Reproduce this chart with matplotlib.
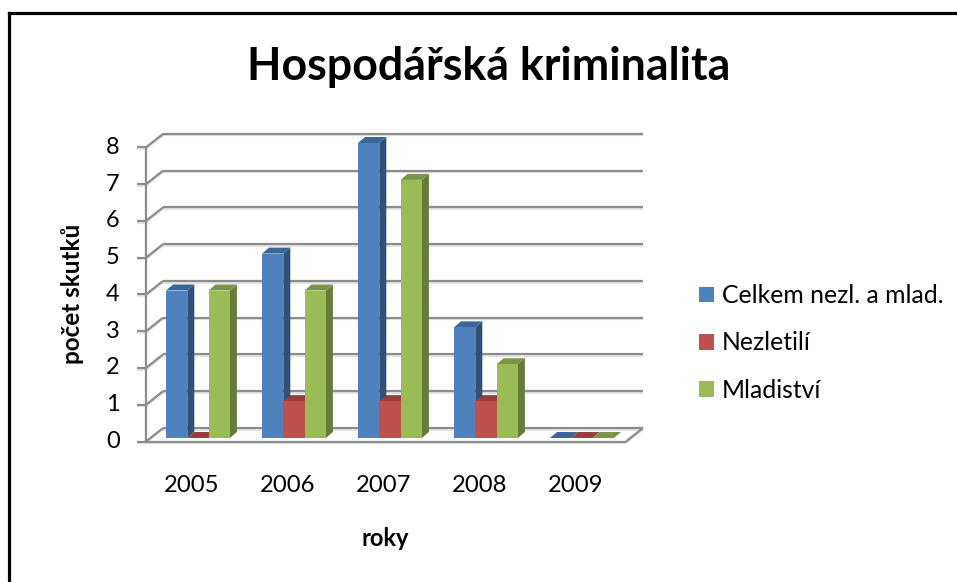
import matplotlib
matplotlib.use("Agg")
import matplotlib.pyplot as plt
from matplotlib.patches import Rectangle
from matplotlib.lines import Line2D

plt.rcParams['font.family'] = ['Lato', 'DejaVu Sans']

# --- data ---
years = ['2005', '2006', '2007', '2008', '2009']
series_names = ['Celkem nezl. a mlad.', 'Nezletilí', 'Mladiství']
celkem = [4, 5, 8, 3, 0]
nezletili = [0, 1, 1, 1, 0]
mladistvi = [4, 4, 7, 2, 0]
y_ticks = [0, 1, 2, 3, 4, 5, 6, 7, 8]

front_cols = ['#4F81BD', '#C0504D', '#9BBB59']
side_cols = ['#2F5078', '#7F3230', '#677C39']
top_cols = ['#3D6696', '#973F3D', '#7A9446']

W, H = 957, 582
fig = plt.figure(figsize=(W / 100, H / 100), dpi=100, facecolor='white')

# axes box in pixels: x 146..626, y 143 (value 8) .. 438 (value 0)
L, R, T, B = 146, 626, 143, 438
ax = fig.add_axes([L / W, 1 - B / H, (R - L) / W, (B - T) / H])
ax.set_xlim(0, len(years))
ax.set_ylim(0, 8)
ax.axis('off')

px_x = len(years) / (R - L)
px_y = 8 / (B - T)

# frame depth
wall_dx, wall_dy = 17 * px_x, 13.5 * px_y
front_y = -3.5 * px_y
# bar depth
bar_dx, bar_dy = 7 * px_x, 6 * px_y
bar_w = 21.3 * px_x
group_off = 20 * px_x

grid_col = '#8C8C8C'
shadow_col = '#E4E4E4'

def seg(xs, ys, z=1, lw=1.6, col=grid_col):
    ax.plot(xs, [y - 1.6 * px_y for y in ys], color=shadow_col, lw=lw, zorder=z - 0.5,
            clip_on=False, solid_capstyle='butt')
    ax.plot(xs, ys, color=col, lw=lw, zorder=z, clip_on=False, solid_capstyle='butt')

n = len(years)
back_y0 = front_y + wall_dy
for v in y_ticks:
    # back wall line, left wall diagonal and tick mark
    seg([wall_dx, n + wall_dx], [v * 0.997 + back_y0] * 2)
    seg([0, wall_dx], [v * 0.997 + front_y, v * 0.997 + back_y0])
    seg([-9 * px_x, 0], [v * 0.997 + front_y] * 2)
    ax.text(-33 * px_x, v * 0.997 + front_y, str(v), ha='center', va='center',
            fontsize=17, color='black', clip_on=False)

# left front axis, floor front edge and floor right edge
seg([0, 0], [front_y, 8 * 0.997 + front_y])
seg([0, n], [front_y, front_y])
seg([n, n + wall_dx], [front_y, back_y0])

# bars drawn from the data, left to right so each covers its neighbour's side
for i, year in enumerate(years):
    for s, vals in enumerate([celkem, nezletili, mladistvi]):
        v = vals[i]
        x0 = i + group_off + s * bar_w
        z = 3 + i + s * 0.1
        # front face
        ax.bar(x0, v, width=bar_w, align='edge', color=front_cols[s], zorder=z + 0.02,
               clip_on=False, linewidth=0)
        # side face
        ax.fill([x0 + bar_w, x0 + bar_w + bar_dx, x0 + bar_w + bar_dx, x0 + bar_w],
                [0, bar_dy, v + bar_dy, v], color=side_cols[s], lw=0, zorder=z, clip_on=False)
        # top face
        ax.fill([x0, x0 + bar_dx, x0 + bar_w + bar_dx, x0 + bar_w],
                [v, v + bar_dy, v + bar_dy, v], color=top_cols[s], lw=0, zorder=z + 0.01,
                clip_on=False)
    ax.text(i + 0.5 - 2 * px_x, -48 * px_y, year, ha='center', va='center', fontsize=17.2,
            color='black', clip_on=False)

# texts
fig.text(489 / W, 1 - 67 / H, 'Hospodářská kriminalita', ha='center', va='center',
         fontsize=32.2, fontweight='bold', color='black')
fig.text(385 / W, 1 - 538 / H, 'roky', ha='center', va='center', fontsize=17,
         fontweight='bold', color='black')
fig.text(72 / W, 1 - 294 / H, 'počet skutků', ha='center', va='center', rotation=90,
         fontsize=17.5, fontweight='bold', color='black')

# legend
handles = [Rectangle((0, 0), 1, 1, color=c, lw=0) for c in front_cols]
fig.legend(handles, series_names, loc='center left', bbox_to_anchor=(699 / W, 1 - 343 / H),
           frameon=False, fontsize=17.8, handlelength=0.61, handleheight=0.61,
           handletextpad=0.32, labelspacing=0.98, borderpad=0, borderaxespad=0)

# outer frame
for xs, ys in [([9, 9], [13, H]), ([9, W], [13, 13])]:
    fig.add_artist(Line2D([x / W for x in xs], [1 - y / H for y in ys], color='black', lw=2.3,
                          transform=fig.transFigure))

fig.savefig('out.png', dpi=100, facecolor='white')
